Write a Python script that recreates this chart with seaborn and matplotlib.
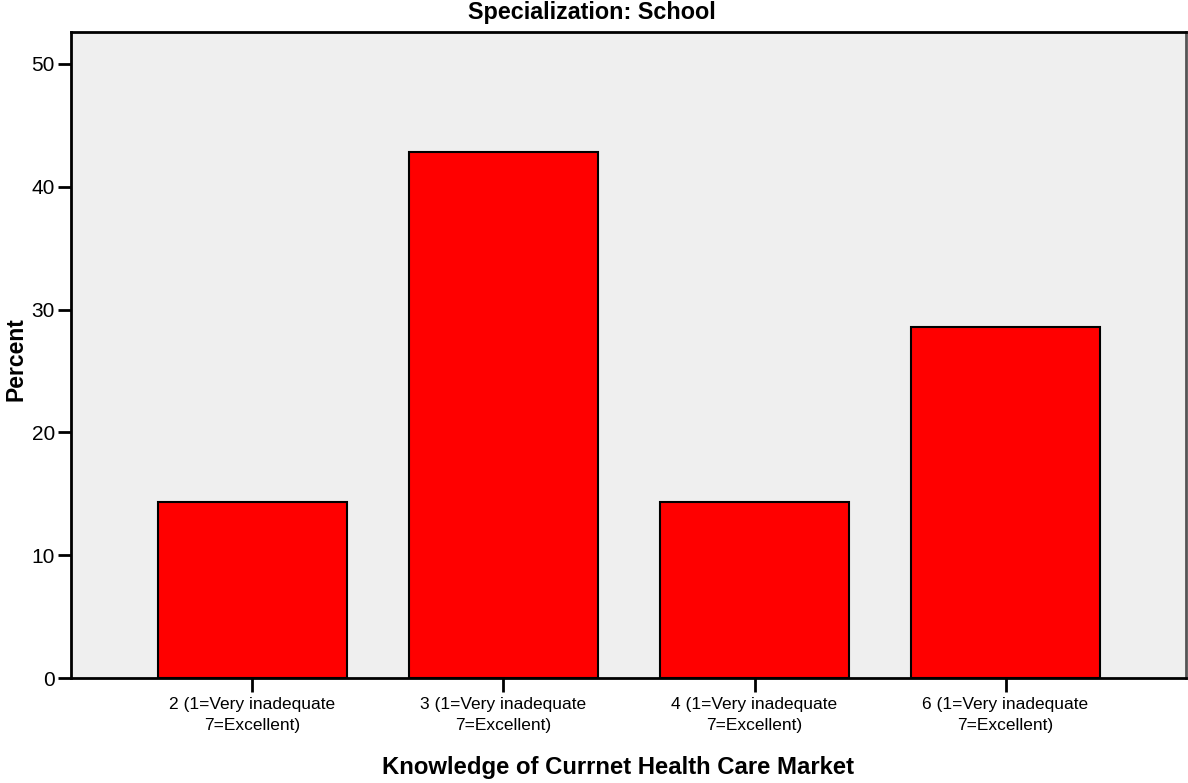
import matplotlib
matplotlib.use('Agg')
import matplotlib.pyplot as plt
import seaborn as sns
import pandas as pd

categories = ['2 (1=Very inadequate\n7=Excellent)',
              '3 (1=Very inadequate\n7=Excellent)',
              '4 (1=Very inadequate\n7=Excellent)',
              '6 (1=Very inadequate\n7=Excellent)']
percent = [14.29, 42.86, 14.29, 28.57]
yticks = [0, 10, 20, 30, 40, 50]

df = pd.DataFrame({'category': categories, 'percent': percent})

sns.set_theme(style="white")
plt.rcParams['font.family'] = ['Liberation Sans Narrow', 'Liberation Sans', 'DejaVu Sans']
plt.rcParams['text.color'] = 'black'
plt.rcParams['axes.labelcolor'] = 'black'
plt.rcParams['xtick.color'] = 'black'
plt.rcParams['ytick.color'] = 'black'

fig = plt.figure(figsize=(11.88, 7.83), dpi=100)
ax = fig.add_axes([71/1188, 1 - 678/783, (1186-71)/1188, (678-32)/783])

sns.barplot(data=df, x='category', y='percent', color='#FF0000',
            edgecolor='black', linewidth=1.5, width=0.753, saturation=1, ax=ax)

ax.set_facecolor('#EFEFEF')
ax.set_xlim(-0.723, 3.719)
ax.set_ylim(0, 52.6)
ax.set_yticks(yticks)
ax.tick_params(axis='y', labelsize=15, length=9.5, width=2, direction='out', left=True, pad=2)
ax.tick_params(axis='x', labelsize=12.5, length=10, width=2, direction='out', bottom=True, pad=4)
for lbl in ax.get_xticklabels():
    lbl.set_linespacing(1.45)

for side in ['left', 'bottom', 'top']:
    ax.spines[side].set_color('black')
    ax.spines[side].set_linewidth(2)
ax.spines['right'].set_color('#555555')
ax.spines['right'].set_linewidth(2)

# axis labels placed like the SPSS output
ax.set_xlabel('Knowledge of Currnet Health Care Market', fontsize=17.2, fontweight='bold')
ax.xaxis.set_label_coords((618-71)/1115, -(779-678)/646)
ax.xaxis.label.set_va('bottom')
ax.set_ylabel('Percent', fontsize=16.5, fontweight='bold')
ax.yaxis.set_label_coords(-(71-5)/1115, (678-359)/646)
ax.yaxis.label.set_va('top')
fig.text(592/1188, 1 - 12/783, 'Specialization: School', fontsize=16.8, fontweight='bold',
         ha='center', va='center')

fig.savefig('out.png', dpi=100)
